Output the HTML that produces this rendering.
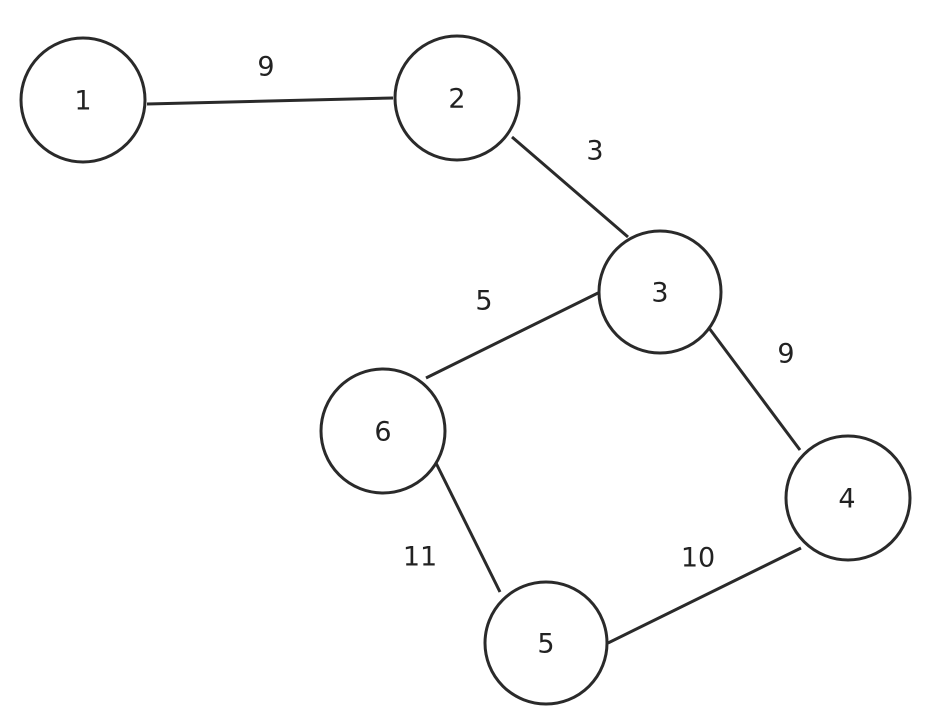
<!DOCTYPE html>
<html><head><style>html,body{margin:0;padding:0;background:#fff;}svg{display:block}</style></head>
<body>
<svg width="926" height="724" viewBox="0 0 926 724" xmlns="http://www.w3.org/2000/svg">
<g stroke="#2a2a2a" stroke-width="3" fill="none">
<line x1="147" y1="104" x2="393" y2="98"/>
<line x1="512" y1="137" x2="628" y2="237"/>
<line x1="598" y1="293" x2="426" y2="378"/>
<line x1="709" y1="328" x2="800" y2="450"/>
<line x1="436" y1="463" x2="500" y2="592"/>
<line x1="801" y1="548" x2="608" y2="643"/>
<circle cx="83" cy="100" r="62"/>
<circle cx="457" cy="98" r="62"/>
<circle cx="660" cy="292" r="61"/>
<circle cx="383" cy="431" r="62"/>
<circle cx="848" cy="498" r="62"/>
<circle cx="546" cy="643" r="61"/>
</g>
<g font-family="'DejaVu Sans','Liberation Sans',sans-serif" font-size="27" fill="#222" text-anchor="middle" dominant-baseline="central">
<text x="83" y="101">1</text>
<text x="457" y="99">2</text>
<text x="660" y="293">3</text>
<text x="383" y="432">6</text>
<text x="847" y="499">4</text>
<text x="546" y="644">5</text>
<text x="266" y="67">9</text>
<text x="595" y="151">3</text>
<text x="484" y="301">5</text>
<text x="786" y="354">9</text>
<text x="420" y="557">11</text>
<text x="698" y="558">10</text>
</g>
</svg>
</body></html>
